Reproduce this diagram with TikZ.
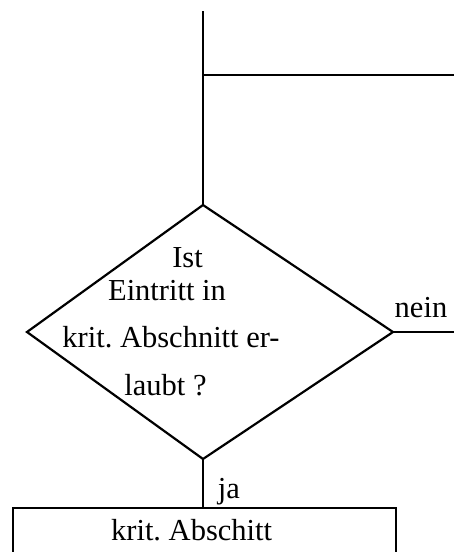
\documentclass[tikz,border=0pt]{standalone}
\usepackage{fontspec}
\setmainfont{Liberation Serif}
\frenchspacing
\begin{document}
\begin{tikzpicture}[x=1pt,y=-1pt,
  ln/.style={draw=black,line width=2.2pt,line join=miter},
  lbl/.style={anchor=base,inner sep=0pt,font=\fontsize{30.5}{36}\selectfont}]
\useasboundingbox (0,0) rectangle (454,552);
\clip (0,0) rectangle (454,552);
% coordinates
\coordinate (top) at (203,11);
\coordinate (branch) at (203,75);
\coordinate (rend) at (454,75);
\coordinate (T) at (203,205);
\coordinate (L) at (27,332);
\coordinate (R) at (393,332);
\coordinate (B) at (203,459);
\coordinate (nend) at (454,332);
% box
\node[ln, anchor=north west, inner sep=0pt, minimum width=383pt,
      text height=32pt, text depth=28pt,
      font=\fontsize{30.5}{36}\selectfont] (box) at (12,507) {krit. Abschitt\hspace*{26pt}};
% diamond text
\node[lbl] (d1) at (187.5,267) {Ist};
\node[lbl] (d2) at (167,300) {Eintritt in};
\node[lbl] (d3) at (171,347) {krit. Abschnitt er-};
\node[lbl] (d4) at (165.5,395) {laubt ?};
\node[lbl] (ja) at (229,498) {ja};
\node[lbl] (nein) at (421,317) {nein};
% lines
\draw[ln] (top) -- (T);
\draw[ln] (branch) -- (rend);
\draw[ln] (T) -- (R) -- (B) -- (L) -- cycle;
\draw[ln] (R) -- (nend);
\draw[ln] (B) -- (box.north -| B);
\end{tikzpicture}
\end{document}
